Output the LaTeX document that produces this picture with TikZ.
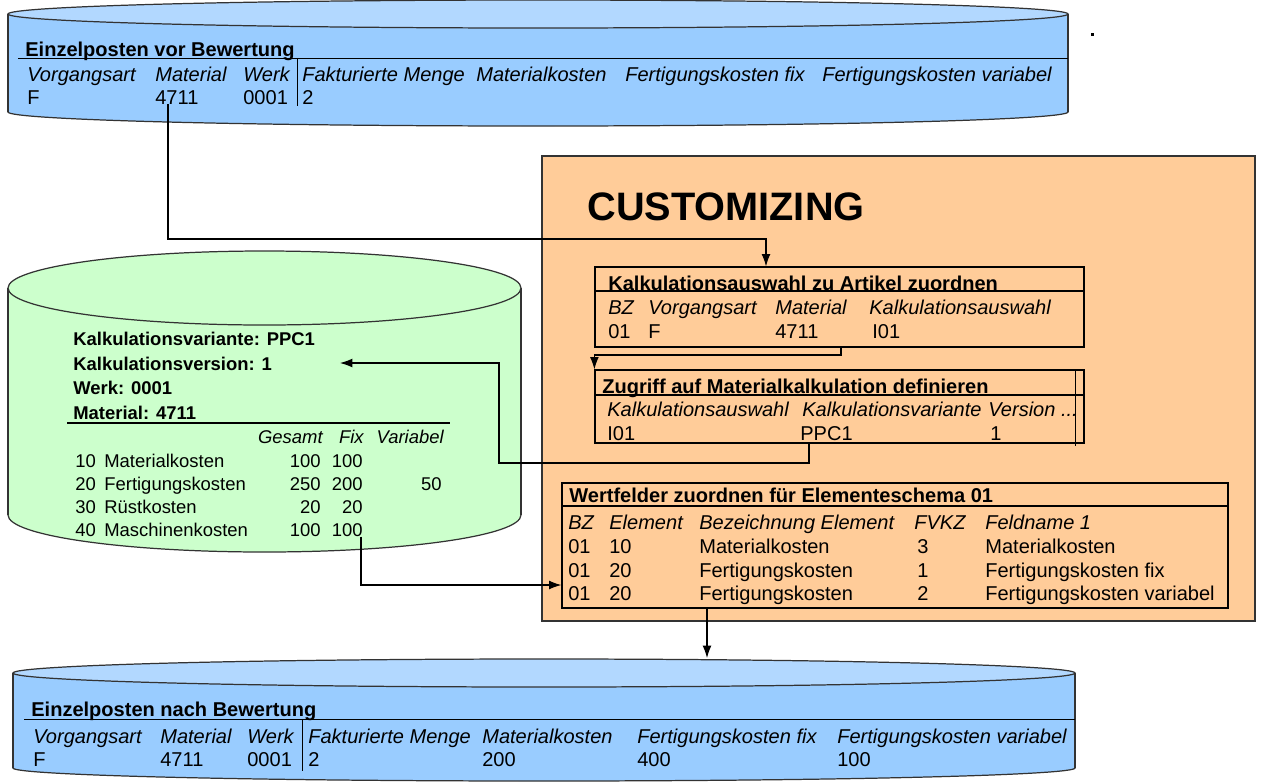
\documentclass[tikz,border=0pt]{standalone}
\usepackage{fontspec}
\setmainfont{Liberation Sans}
\usepackage{tikz}
\usetikzlibrary{arrows.meta}
\usetikzlibrary{fit}
\definecolor{blaukoerper}{RGB}{153,204,255}
\definecolor{blaudeckel}{RGB}{178,216,255}
\definecolor{gruen}{RGB}{204,255,204}
\definecolor{pfirsich}{RGB}{255,204,153}
\tikzset{tx/.style={anchor=base west,inner sep=0pt,font=\fontsize{11.4}{11.4}\selectfont}}
\tikzset{txi/.style={tx,font=\fontsize{11.4}{11.4}\selectfont\itshape}}
\tikzset{txb/.style={tx,font=\fontsize{11.4}{11.4}\selectfont\bfseries}}
\tikzset{gx/.style={anchor=base west,inner sep=0pt,font=\fontsize{10.5}{10.5}\selectfont}}
\tikzset{gxr/.style={gx,anchor=base east}}
\tikzset{gxi/.style={gxr,font=\fontsize{10.5}{10.5}\selectfont\itshape}}
\tikzset{gxb/.style={gx,font=\fontsize{10.5}{10.5}\selectfont\bfseries}}
\tikzset{kasten/.style={draw=black,line width=0.7pt,inner sep=0pt}}
\tikzset{rand/.style={draw=black!80,line width=0.7pt}}
\tikzset{pfeil/.style={draw=black,line width=0.6pt,-{Latex[length=7pt,width=5pt]}}}

\begin{document}
\begin{tikzpicture}[x=0.02cm,y=-0.02cm]
  \useasboundingbox (0,0) rectangle (1261,782);

  % Einzelposten vor Bewertung
  \filldraw[rand,fill=blaukoerper] (538,112) ellipse [x radius=530,y radius=14];
  \fill[blaukoerper] (8,14) rectangle (1068,112);
  \draw[rand] (8,14) -- (8,112);
  \draw[rand] (1068,14) -- (1068,112);
  \filldraw[rand,fill=blaudeckel] (538,14) ellipse [x radius=530,y radius=14];
  \draw[line width=0.5pt] (18,58) -- (1068,58);
  \draw[line width=0.5pt] (297,58) -- (297,106);
  \fill (1091,33) rectangle (1094,36);
  \node[txb] (vtitel) at (25,56) {Einzelposten vor Bewertung};
  \node[txi] (vh1) at (27,81) {Vorgangsart};
  \node[txi] (vh2) at (155,81) {Material};
  \node[txi] (vh3) at (243,81) {Werk};
  \node[txi] (vh4) at (302,81) {Fakturierte Menge};
  \node[txi] (vh5) at (476,81) {Materialkosten};
  \node[txi] (vh6) at (625,81) {Fertigungskosten fix};
  \node[txi] (vh7) at (822,81) {Fertigungskosten variabel};
  \node[tx] (vF) at (27,104) {F};
  \node[tx] (v4711) at (155,104) {4711};
  \node[tx] (v0001) at (243,104) {0001};
  \node[tx] (vmenge) at (302,104) {2};

  % Kalkulation
  \filldraw[rand,fill=gruen] (264.5,515) ellipse [x radius=256.5,y radius=37];
  \fill[gruen] (8,288) rectangle (521,515);
  \draw[rand] (8,288) -- (8,515);
  \draw[rand] (521,288) -- (521,515);
  \filldraw[rand,fill=gruen] (264.5,288) ellipse [x radius=256.5,y radius=37];
  \node[gxb] (kvar) at (73,345) {Kalkulationsvariante: PPC1};
  \node[gxb] (kver) at (73,370) {Kalkulationsversion: 1};
  \node[gxb] (kwerk) at (73,394) {Werk: 0001};
  \node[gxb] (kmat) at (73,419) {Material: 4711};
  \draw[line width=0.8pt] (67,423) -- (450,423);
  \node[gxi] (kges) at (323,443) {Gesamt};
  \node[gxi] (kfix) at (364,443) {Fix};
  \node[gxi] (kvarb) at (444,443) {Variabel};
  \node[gx] (gn10) at (75,467) {10};
  \node[gx] (gl10) at (104,467) {Materialkosten};
  \node[gxr] (gg10) at (321,467) {100};
  \node[gxr] (gf10) at (363,467) {100};
  \node[gx] (gn20) at (75,490) {20};
  \node[gx] (gl20) at (104,490) {Fertigungskosten};
  \node[gxr] (gg20) at (321,490) {250};
  \node[gxr] (gf20) at (363,490) {200};
  \node[gxr] (gv20) at (442,490) {50};
  \node[gx] (gn30) at (75,513) {30};
  \node[gx] (gl30) at (104,513) {Rüstkosten};
  \node[gxr] (gg30) at (321,513) {20};
  \node[gxr] (gf30) at (363,513) {20};
  \node[gx] (gn40) at (75,536) {40};
  \node[gx] (gl40) at (104,536) {Maschinenkosten};
  \node[gxr] (gg40) at (321,536) {100};
  \node[gxr] (gf40) at (363,536) {100};

  % Customizing
  \node[rand,fill=pfirsich,inner sep=0pt,fit={(542,156) (1255,621)}] (cust) {};
  \node[anchor=base west,inner sep=0pt,font=\fontsize{22.6}{22.6}\selectfont\bfseries] (custtitel) at (587,220) {CUSTOMIZING};

  \node[kasten,fit={(595,267) (1084,347)}] (kalk) {};
  \draw[line width=0.7pt] (595,291) -- (1084,291);
  \node[txb] (kalktitel) at (608,290) {Kalkulationsauswahl zu Artikel zuordnen};
  \node[txi] (kh1) at (608,314) {BZ};
  \node[txi] (kh2) at (648,314) {Vorgangsart};
  \node[txi] (kh3) at (775,314) {Material};
  \node[txi] (kh4) at (869,314) {Kalkulationsauswahl};
  \node[tx] (kw1) at (608,338) {01};
  \node[tx] (kw2) at (648,338) {F};
  \node[tx] (kw3) at (775,338) {4711};
  \node[tx] (kw4) at (872,338) {I01};

  \node[kasten,fit={(595,370) (1084,443)}] (zugr) {};
  \draw[line width=0.7pt] (595,395) -- (1084,395);
  \draw[line width=0.5pt] (1075,370) -- (1075,446);
  \node[txb] (zugrtitel) at (602,393) {Zugriff auf Materialkalkulation definieren};
  \node[txi] (zh1) at (607,416) {Kalkulationsauswahl};
  \node[txi] (zh2) at (802,416) {Kalkulationsvariante};
  \node[txi] (zh3) at (988,416) {Version ...};
  \node[tx] (zw1) at (607,440) {I01};
  \node[tx] (zw2) at (800,440) {PPC1};
  \node[tx] (zw3) at (990,440) {1};

  \node[kasten,fit={(562,483) (1228,608)}] (wert) {};
  \draw[line width=0.7pt] (562,506) -- (1228,506);
  \node[txb] (werttitel) at (569,502) {Wertfelder zuordnen für Elementeschema 01};
  \node[txi] (wh1) at (568,529) {BZ};
  \node[txi] (wh2) at (609,529) {Element};
  \node[txi] (wh3) at (699,529) {Bezeichnung Element};
  \node[txi] (wh4) at (914,529) {FVKZ};
  \node[txi] (wh5) at (985,529) {Feldname 1};
  \node[tx] (wa1) at (568,553) {01};
  \node[tx] (wa2) at (609,553) {10};
  \node[tx] (wa3) at (699,553) {Materialkosten};
  \node[tx] (wa4) at (917,553) {3};
  \node[tx] (wa5) at (985,553) {Materialkosten};
  \node[tx] (wb1) at (568,577) {01};
  \node[tx] (wb2) at (609,577) {20};
  \node[tx] (wb3) at (699,577) {Fertigungskosten};
  \node[tx] (wb4) at (917,577) {1};
  \node[tx] (wb5) at (985,577) {Fertigungskosten fix};
  \node[tx] (wc1) at (568,600) {01};
  \node[tx] (wc2) at (609,600) {20};
  \node[tx] (wc3) at (699,600) {Fertigungskosten};
  \node[tx] (wc4) at (917,600) {2};
  \node[tx] (wc5) at (985,600) {Fertigungskosten variabel};

  % Einzelposten nach Bewertung
  \filldraw[rand,fill=blaukoerper] (544,768) ellipse [x radius=531,y radius=13];
  \fill[blaukoerper] (13,673) rectangle (1075,768);
  \draw[rand] (13,673) -- (13,768);
  \draw[rand] (1075,673) -- (1075,768);
  \filldraw[rand,fill=blaudeckel] (544,673) ellipse [x radius=531,y radius=14];
  \draw[line width=0.5pt] (24,719) -- (1075,719);
  \draw[line width=0.5pt] (302,719) -- (302,771);
  \node[txb] (ntitel) at (31,716) {Einzelposten nach Bewertung};
  \node[txi] (nh1) at (33,743) {Vorgangsart};
  \node[txi] (nh2) at (160,743) {Material};
  \node[txi] (nh3) at (247,743) {Werk};
  \node[txi] (nh4) at (308,743) {Fakturierte Menge};
  \node[txi] (nh5) at (482,743) {Materialkosten};
  \node[txi] (nh6) at (637,743) {Fertigungskosten fix};
  \node[txi] (nh7) at (837,743) {Fertigungskosten variabel};
  \node[tx] (nF) at (33,766) {F};
  \node[tx] (n4711) at (160,766) {4711};
  \node[tx] (n0001) at (247,766) {0001};
  \node[tx] (nmenge) at (308,766) {2};
  \node[tx] (nmat) at (482,766) {200};
  \node[tx] (nfix) at (637,766) {400};
  \node[tx] (nvar) at (837,766) {100};

  % Verbindungen
  \coordinate (k1a) at (168,239);
  \coordinate (k1b) at (766,239);
  \draw[pfeil] (k1a |- v4711.south) -- (k1a) -- (k1b) -- (k1b |- kalk.north);
  \coordinate (k2) at (841,355);
  \draw[pfeil] (k2 |- kalk.south) -- (k2) -| (zugr.north west);
  \coordinate (k3a) at (809,463);
  \coordinate (k3b) at (499,463);
  \coordinate (kvspitze) at (340,363);
  \draw[pfeil] (k3a |- zugr.south) -- (k3a) -- (k3b) |- (kvspitze);
  \coordinate (k4) at (361,585);
  \draw[pfeil] (k4 |- gf40.south) -- (k4) -- (k4 -| wert.west);
  \coordinate (k5) at (707,658);
  \draw[pfeil] (k5 |- wert.south) -- (k5);
\end{tikzpicture}
\end{document}
